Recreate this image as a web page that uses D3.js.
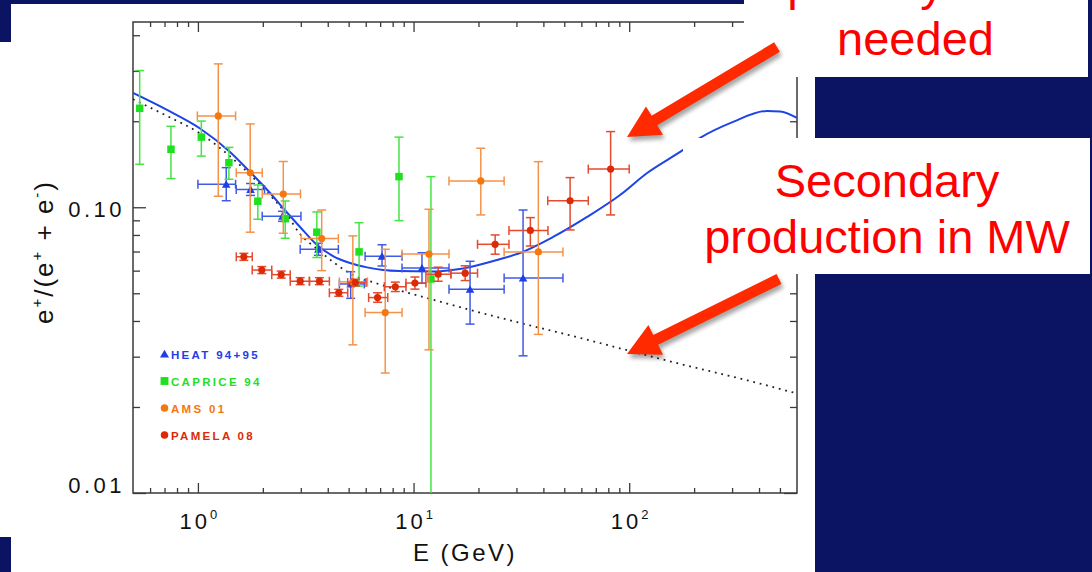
<!DOCTYPE html>
<html>
<head>
<meta charset="utf-8">
<script src="https://cdn.jsdelivr.net/npm/d3@7"></script>
<style>
  html, body { margin: 0; padding: 0; background: #fff; }
  svg { display: block; }
</style>
</head>
<body>
<svg id="chart" width="1092" height="572"></svg>
<script>
// Positron fraction e+/(e+ + e-) against energy.
// Each row: [E (GeV), ratio, E low, E high, ratio low, ratio high]
const heat = [
  [1.353, 0.1204, 1.00, 1.495, 0.1054, 0.1376],
  [1.754, 0.1154, 1.506, 2.036, 0.110, 0.1211],
  [2.467, 0.0930, 1.987, 3.005, 0.0893, 0.0968],
  [3.62, 0.0713, 2.98, 4.48, 0.0679, 0.0748],
  [5.11, 0.0539, 4.53, 5.91, 0.0480, 0.0595],
  [7.14, 0.0674, 5.96, 8.84, 0.0623, 0.0739],
  [10.94, 0.0613, 8.84, 14.6, 0.0542, 0.0693],
  [18.28, 0.0516, 14.6, 26.3, 0.0390, 0.0647],
  [32.2, 0.0565, 26.3, 49.3, 0.0302, 0.0978]
];
const caprice = [
  [0.537, 0.222, 0.537, 0.537, 0.1414, 0.301],
  [0.75, 0.1596, 0.75, 0.75, 0.126, 0.192],
  [1.037, 0.176, 1.037, 1.037, 0.151, 0.2003],
  [1.392, 0.1432, 1.392, 1.392, 0.1253, 0.162],
  [1.896, 0.105, 1.896, 1.896, 0.0908, 0.1197],
  [2.54, 0.0912, 2.54, 2.54, 0.0779, 0.1052],
  [3.56, 0.0818, 3.56, 3.56, 0.0667, 0.0963],
  [5.59, 0.0698, 5.59, 5.59, 0.053, 0.0883],
  [8.56, 0.128, 8.56, 8.56, 0.0898, 0.176],
  [12.04, 0.0561, 12.04, 12.04, 0.004, 0.128]
];
const ams = [
  [1.243, 0.2088, 0.994, 1.495, 0.1093, 0.3175],
  [1.748, 0.132, 1.506, 1.987, 0.0818, 0.1957],
  [2.488, 0.1113, 1.987, 2.99, 0.0811, 0.1446],
  [3.75, 0.0777, 3.01, 4.48, 0.060, 0.0978],
  [5.23, 0.0548, 4.53, 6.11, 0.033, 0.0794],
  [7.39, 0.0428, 5.96, 8.84, 0.0263, 0.0713],
  [11.79, 0.0686, 8.84, 14.6, 0.0317, 0.0984],
  [20.5, 0.1236, 14.6, 26.3, 0.094, 0.1609],
  [37.9, 0.0698, 26.3, 49.3, 0.0359, 0.1444]
];
const pamela = [
  [1.633, 0.0671, 1.506, 1.786, 0.0652, 0.0690],
  [1.978, 0.0603, 1.786, 2.20, 0.0586, 0.0620],
  [2.433, 0.0581, 2.20, 2.68, 0.0565, 0.0598],
  [2.98, 0.0551, 2.68, 3.29, 0.0536, 0.0567],
  [3.66, 0.0551, 3.29, 4.07, 0.0536, 0.0567],
  [4.50, 0.0502, 4.07, 4.95, 0.0488, 0.0516],
  [5.37, 0.0545, 4.95, 6.02, 0.0530, 0.0560],
  [6.81, 0.0483, 6.19, 7.59, 0.0465, 0.0502],
  [8.23, 0.0527, 7.32, 9.22, 0.0507, 0.0547],
  [10.15, 0.0543, 9.22, 11.41, 0.0517, 0.0570],
  [13.01, 0.0583, 11.41, 14.9, 0.0551, 0.0617],
  [17.35, 0.0588, 14.9, 19.8, 0.0554, 0.0624],
  [23.9, 0.0742, 19.8, 27.7, 0.0685, 0.0800],
  [34.8, 0.0830, 27.7, 42.0, 0.0732, 0.0920],
  [53.2, 0.1054, 41.9, 64.6, 0.0833, 0.1270],
  [82.0, 0.1360, 64.6, 100, 0.0940, 0.1840]
];

// Model curves: [E (GeV), ratio]
const modelWithSource = [
  [0.5, 0.2512], [0.719, 0.2191], [1.023, 0.1887], [1.409, 0.1562], [1.745, 0.1329],
  [2.161, 0.1122], [2.481, 0.0994], [2.976, 0.0853], [3.568, 0.0738], [4.233, 0.0675],
  [5.076, 0.0638], [6.085, 0.0616], [7.219, 0.0603], [8.658, 0.0598], [11.93, 0.0596],
  [16.96, 0.0611], [24.39, 0.0654], [31.18, 0.0692], [44.36, 0.0787], [63.78, 0.0925],
  [90.7, 0.1104], [121.1, 0.1318], [177.8, 0.1587], [213.3, 0.1748], [303.4, 0.1989],
  [436.2, 0.2174], [501.1, 0.2165], [600, 0.2054]
];
const modelSecondary = [
  [0.5, 0.2388], [0.719, 0.2087], [1.023, 0.1813], [1.455, 0.1476], [2.092, 0.1131],
  [2.591, 0.0940], [2.976, 0.0806], [3.568, 0.0715], [4.233, 0.0644], [5.242, 0.0579],
  [6.771, 0.0541], [8.658, 0.0511], [11.93, 0.0478], [16.96, 0.0444], [24.39, 0.0413],
  [34.7, 0.0386], [59.2, 0.0349], [101, 0.0314], [172.2, 0.0283], [352.3, 0.0248],
  [600, 0.0223]
];

const xMajor = [1, 10, 100];
const xMajorExp = ["0", "1", "2"];
const xMinor = [0.6, 0.7, 0.8, 0.9, 2, 3, 4, 5, 6, 7, 8, 9, 20, 30, 40, 50, 60, 70, 80, 90, 200, 300, 400, 500];
const yMajor = [0.01, 0.1];
const yMajorText = ["0.01", "0.10"];
const yMinor = [0.02, 0.03, 0.04, 0.05, 0.06, 0.07, 0.08, 0.09, 0.2, 0.3, 0.4];
const legendNames = ["HEAT 94+95", "CAPRICE 94", "AMS 01", "PAMELA 08"];

const NAVY = "#0a1462";
const plot = { left: 133, right: 797, top: 22, bottom: 493 };

const svg = d3.select("#chart");
const defs = svg.append("defs");
defs.append("clipPath").attr("id", "plotClip")
  .append("rect")
  .attr("x", plot.left).attr("y", plot.top)
  .attr("width", plot.right - plot.left).attr("height", plot.bottom - plot.top);
const blur = defs.append("filter").attr("id", "shadow")
  .attr("x", "-20%").attr("y", "-20%").attr("width", "140%").attr("height", "140%");
blur.append("feGaussianBlur").attr("stdDeviation", 2.2);

// slide background
svg.append("rect").attr("width", 1092).attr("height", 572).attr("fill", "#fff");

const x = d3.scaleLog().domain([0.5, 600]).range([plot.left, plot.right]);
const y = d3.scaleLog().domain([0.01, 0.445]).range([plot.bottom, plot.top]);

// ---- axes ----
const axisColor = "#3a3a3a";
function styleAxis(g) {
  g.select(".domain").remove();
  g.selectAll(".tick line").attr("stroke", axisColor).attr("stroke-width", 1.3);
  g.selectAll(".tick text").remove();
}
svg.append("g").attr("transform", `translate(0,${plot.bottom})`)
  .call(d3.axisBottom(x).tickValues(xMajor).tickSize(-10).tickFormat("")).call(styleAxis);
svg.append("g").attr("transform", `translate(0,${plot.bottom})`)
  .call(d3.axisBottom(x).tickValues(xMinor).tickSize(-5).tickFormat("")).call(styleAxis);
svg.append("g").attr("transform", `translate(0,${plot.top})`)
  .call(d3.axisTop(x).tickValues(xMajor).tickSize(-10).tickFormat("")).call(styleAxis);
svg.append("g").attr("transform", `translate(0,${plot.top})`)
  .call(d3.axisTop(x).tickValues(xMinor).tickSize(-5).tickFormat("")).call(styleAxis);
svg.append("g").attr("transform", `translate(${plot.left},0)`)
  .call(d3.axisLeft(y).tickValues(yMajor).tickSize(-13).tickFormat("")).call(styleAxis);
svg.append("g").attr("transform", `translate(${plot.left},0)`)
  .call(d3.axisLeft(y).tickValues(yMinor).tickSize(-7).tickFormat("")).call(styleAxis);
svg.append("g").attr("transform", `translate(${plot.right},0)`)
  .call(d3.axisRight(y).tickValues(yMajor).tickSize(-13).tickFormat("")).call(styleAxis);
svg.append("g").attr("transform", `translate(${plot.right},0)`)
  .call(d3.axisRight(y).tickValues(yMinor).tickSize(-7).tickFormat("")).call(styleAxis);

svg.append("rect")
  .attr("x", plot.left).attr("y", plot.top)
  .attr("width", plot.right - plot.left).attr("height", plot.bottom - plot.top)
  .attr("fill", "none").attr("stroke", axisColor).attr("stroke-width", 1.5);

// tick labels
const tickFont = "'Liberation Sans', Arial, sans-serif";
xMajor.forEach((v, i) => {
  const t = svg.append("text")
    .attr("x", x(v) + 2).attr("y", 529)
    .attr("text-anchor", "middle")
    .attr("font-family", tickFont).attr("font-size", 22)
    .attr("letter-spacing", 3).attr("fill", "#111");
  t.append("tspan").text("10");
  t.append("tspan").attr("font-size", 13).attr("dy", -10).text(xMajorExp[i]);
});
yMajor.forEach((v, i) => {
  svg.append("text")
    .attr("x", 125).attr("y", i === 0 ? 493 : 217)
    .attr("text-anchor", "end")
    .attr("font-family", tickFont).attr("font-size", 22)
    .attr("letter-spacing", 3.5).attr("fill", "#111")
    .text(yMajorText[i]);
});

// axis titles
svg.append("text")
  .attr("x", 465).attr("y", 561)
  .attr("text-anchor", "middle")
  .attr("font-family", tickFont).attr("font-size", 24)
  .attr("letter-spacing", 2.5).attr("fill", "#111")
  .text("E (GeV)");

const yTitle = svg.append("text")
  .attr("transform", "translate(53,252) rotate(-90)")
  .attr("text-anchor", "middle")
  .attr("font-family", tickFont).attr("font-size", 26)
  .attr("letter-spacing", 2).attr("fill", "#111");
yTitle.append("tspan").text("e");
yTitle.append("tspan").attr("font-size", 15).attr("dy", -11).text("+");
yTitle.append("tspan").attr("dy", 11).text("/(e");
yTitle.append("tspan").attr("font-size", 15).attr("dy", -11).text("+");
yTitle.append("tspan").attr("dy", 11).text(" + e");
yTitle.append("tspan").attr("font-size", 15).attr("dy", -11).text("-");
yTitle.append("tspan").attr("dy", 11).text(")");

// ---- model curves ----
const plotG = svg.append("g").attr("clip-path", "url(#plotClip)");
const line = d3.line()
  .x(d => x(d[0])).y(d => y(d[1]))
  .curve(d3.curveMonotoneX);

plotG.append("path").datum(modelSecondary)
  .attr("d", line).attr("fill", "none")
  .attr("stroke", "#222").attr("stroke-width", 1.8)
  .attr("stroke-dasharray", "1.8 4.8");

plotG.append("path").datum(modelWithSource)
  .attr("d", line).attr("fill", "none")
  .attr("stroke", "#1d44e6").attr("stroke-width", 2);

// ---- data with error bars ----
const series = [
  { data: heat, color: "#1e3ee8", bar: "#3f5ae6", shape: "triangle" },
  { data: caprice, color: "#1fe01f", bar: "#45e445", shape: "square" },
  { data: ams, color: "#f5770f", bar: "#f5924a", shape: "circle" },
  { data: pamela, color: "#dd2a06", bar: "#e44a2e", shape: "circle" }
];

function drawMarker(g, shape, cx, cy, color, s) {
  if (shape === "triangle") {
    g.append("path")
      .attr("d", d3.symbol(d3.symbolTriangle, 32 * s * s)())
      .attr("transform", `translate(${cx},${cy + 1})`)
      .attr("fill", color);
  } else if (shape === "square") {
    const w = 7.5 * s;
    g.append("rect").attr("x", cx - w / 2).attr("y", cy - w / 2)
      .attr("width", w).attr("height", w).attr("fill", color);
  } else {
    g.append("circle").attr("cx", cx).attr("cy", cy).attr("r", 3.6 * s).attr("fill", color);
  }
}

const cap = 4.5;
series.forEach(sr => {
  const g = plotG.append("g");
  sr.data.forEach(d => {
    const [e, r, elo, ehi, rlo, rhi] = d;
    const cx = x(e), cy = y(r);
    const bars = g.append("g").attr("stroke", sr.bar).attr("stroke-width", 1.5).attr("fill", "none");
    // vertical bar
    const yTop = y(rhi), yBot = y(rlo);
    bars.append("line").attr("x1", cx).attr("x2", cx).attr("y1", yTop).attr("y2", yBot);
    bars.append("line").attr("x1", cx - cap).attr("x2", cx + cap).attr("y1", yTop).attr("y2", yTop);
    if (yBot < plot.bottom) {
      bars.append("line").attr("x1", cx - cap).attr("x2", cx + cap).attr("y1", yBot).attr("y2", yBot);
    }
    // horizontal bar
    if (ehi > elo) {
      const xl = x(elo), xr = x(ehi);
      bars.append("line").attr("x1", xl).attr("x2", xr).attr("y1", cy).attr("y2", cy);
      bars.append("line").attr("x1", xl).attr("x2", xl).attr("y1", cy - cap).attr("y2", cy + cap);
      bars.append("line").attr("x1", xr).attr("x2", xr).attr("y1", cy - cap).attr("y2", cy + cap);
    }
    drawMarker(g, sr.shape, cx, cy, sr.color, 1);
  });
});

// ---- legend ----
const legendY = [354, 381, 408, 435];
series.forEach((sr, i) => {
  drawMarker(svg, sr.shape, 164.5, legendY[i], sr.color, 1.05);
  svg.append("text")
    .attr("x", 171).attr("y", legendY[i] + 4.5)
    .attr("font-family", tickFont).attr("font-weight", "bold")
    .attr("font-size", 11.5).attr("letter-spacing", 2.3)
    .attr("fill", sr.color)
    .text(legendNames[i]);
});

// ---- slide frame, boxes and notes ----
svg.append("rect").attr("x", 0).attr("y", 0).attr("width", 744).attr("height", 4).attr("fill", NAVY);
svg.append("rect").attr("x", 0).attr("y", 0).attr("width", 11).attr("height", 42).attr("fill", NAVY);
svg.append("rect").attr("x", 0).attr("y", 537).attr("width", 11).attr("height", 35).attr("fill", NAVY);
svg.append("rect").attr("x", 815).attr("y", 0).attr("width", 277).attr("height", 572).attr("fill", NAVY);

svg.append("rect").attr("x", 744).attr("y", 0).attr("width", 344).attr("height", 77).attr("fill", "#fff");
svg.append("rect").attr("x", 683).attr("y", 138).attr("width", 407).attr("height", 136).attr("fill", "#fff");

const noteFont = "'Liberation Sans', Arial, sans-serif";
function note(txt, cx, by) {
  svg.append("text").attr("x", cx).attr("y", by)
    .attr("text-anchor", "middle")
    .attr("font-family", noteFont).attr("font-size", 47)
    .attr("fill", "#ff0000").text(txt);
}
note("e\u207A primary source", 915, 0);
note("needed", 915.5, 55);
note("Secondary", 887, 197);
note("production in MW", 887, 253);

// arrows
function arrowPoints(x1, y1, x2, y2, shaft, headW, headL) {
  const dx = x2 - x1, dy = y2 - y1, len = Math.hypot(dx, dy);
  const ux = dx / len, uy = dy / len, nx = -uy, ny = ux;
  const bx = x2 - ux * headL, by = y2 - uy * headL;
  const p = [
    [x1 + nx * shaft / 2, y1 + ny * shaft / 2],
    [bx + nx * shaft / 2, by + ny * shaft / 2],
    [bx + nx * headW / 2, by + ny * headW / 2],
    [x2, y2],
    [bx - nx * headW / 2, by - ny * headW / 2],
    [bx - nx * shaft / 2, by - ny * shaft / 2],
    [x1 - nx * shaft / 2, y1 - ny * shaft / 2]
  ];
  return p.map(q => q.join(",")).join(" ");
}
const arrows = [
  [777, 47, 627, 137],
  [779, 279, 627, 354]
];
arrows.forEach(a => {
  svg.append("polygon").attr("points", arrowPoints(a[0] + 2, a[1] + 4, a[2] + 2, a[3] + 4, 11, 33, 32))
    .attr("fill", "#000").attr("opacity", 0.35).attr("filter", "url(#shadow)");
  svg.append("polygon").attr("points", arrowPoints(a[0], a[1], a[2], a[3], 11, 33, 32))
    .attr("fill", "#ff2a00");
});
</script>
</body>
</html>
